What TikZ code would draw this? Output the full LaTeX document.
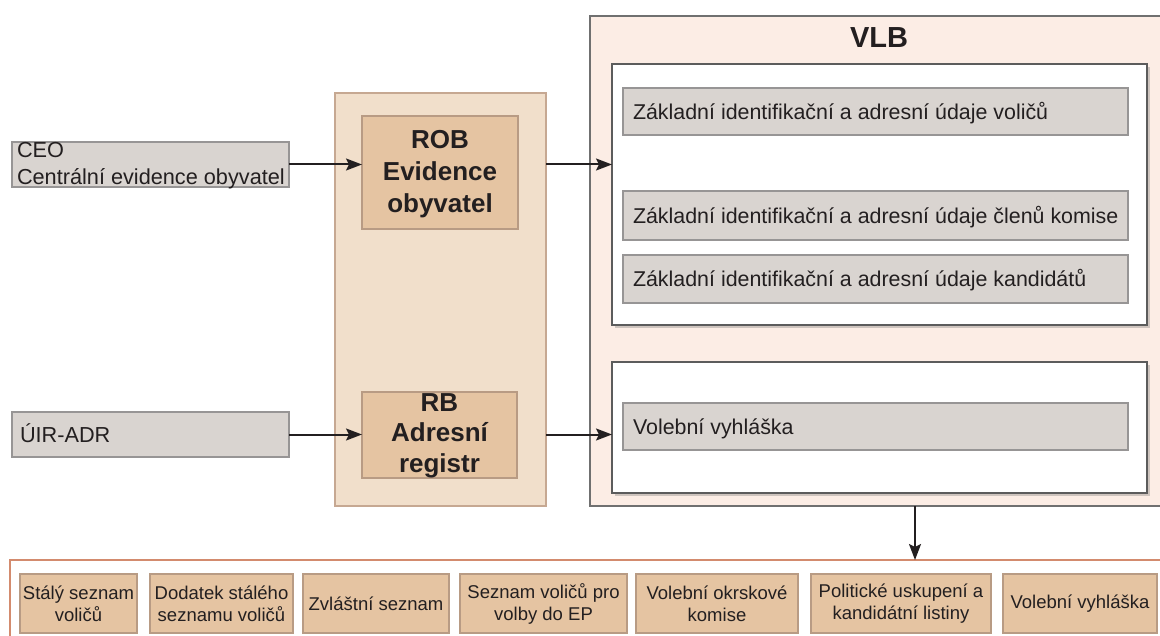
\documentclass[tikz,border=0pt]{standalone}
\usepackage{fontspec}
\setmainfont{Liberation Sans}
\usetikzlibrary{arrows.meta,shadows}
\definecolor{grayfill}{HTML}{D9D4D0}
\definecolor{graybd}{HTML}{979595}
\definecolor{tanfill}{HTML}{F1DFCB}
\definecolor{tanbd}{HTML}{C6A892}
\definecolor{robfill}{HTML}{E5C4A2}
\definecolor{robbd}{HTML}{B89B84}
\definecolor{vlbfill}{HTML}{FCEDE5}
\definecolor{vlbbd}{HTML}{707070}
\definecolor{innerbd}{HTML}{5C5C5C}
\definecolor{botbd}{HTML}{D38B6E}
\definecolor{txtc}{HTML}{231F20}
\begin{document}
\begin{tikzpicture}[x=1bp,y=-1bp,
  every node/.style={inner sep=0pt, outer sep=0pt, text=txtc},
  gbox/.style={draw=graybd, fill=grayfill, line width=2.5bp, anchor=north west},
  tancont/.style={draw=tanbd, fill=tanfill, line width=2bp, anchor=north west},
  regbox/.style={draw=robbd, fill=robfill, line width=2.5bp, anchor=north west},
  vlbbox/.style={draw=vlbbd, fill=vlbfill, line width=2bp, anchor=north west},
  inbox/.style={draw=innerbd, fill=white, line width=2bp, anchor=north west,
    drop shadow={shadow xshift=3bp, shadow yshift=-3bp, opacity=0.3, fill=black!60}},
  botcont/.style={draw=botbd, fill=white, line width=2.5bp, anchor=north west},
  botbox/.style={draw=robbd, fill=robfill, line width=2.5bp, anchor=north west,
    align=center, minimum height=59bp, font=\fontsize{18.5bp}{22bp}\selectfont},
  ltxt/.style={font=\fontsize{21.4bp}{26bp}\selectfont, text height=15.3bp, text depth=0bp, anchor=west},
  bigtxt/.style={font=\fontsize{21.7bp}{27bp}\selectfont},
  regtxt/.style={font=\bfseries\fontsize{26bp}{32bp}\selectfont, align=center, anchor=north},
  arr/.style={draw=txtc, line width=2bp, -{Stealth[length=16bp,width=12bp,inset=3bp]}}
]
\useasboundingbox (0,0) rectangle (1160,636);
\clip (0,0) rectangle (1160,636);

% left sources
\node[gbox, minimum width=277bp, minimum height=45bp] (ceo) at (12,142) {};
\node[bigtxt, anchor=north west, align=left] (ceot) at (17,142.5) {CEO\\Centrální evidence obyvatel};
\node[gbox, minimum width=277bp, minimum height=45bp] (uir) at (12,412) {};
\node[bigtxt, anchor=west, text height=15.5bp, text depth=0bp] (uirt) at ([xshift=8bp]uir.west) {ÚIR-ADR};

% middle registers
\node[tancont, minimum width=211bp, minimum height=413bp] (mid) at (335,93) {};
\node[regbox, minimum width=156bp, minimum height=113bp] (rob) at (362,116) {};
\node[regtxt] (robt) at (440,130.5) {ROB\\Evidence\\obyvatel};
\node[regbox, minimum width=155bp, minimum height=86bp] (rb) at (362,392) {};
\node[regtxt, font=\bfseries\fontsize{26bp}{30.5bp}\selectfont] (rbt) at (439.5,393.4) {RB\\Adresní\\registr};

% VLB
\node[vlbbox, minimum width=573bp, minimum height=490bp] (vlb) at (590,16) {};
\node[font=\bfseries\fontsize{29bp}{35bp}\selectfont, anchor=base] (vlbt) at (879,48) {VLB};
\node[inbox, minimum width=535bp, minimum height=261bp] (in1) at (612,64) {};
\node[gbox, minimum width=505bp, minimum height=47bp] (g1) at (623,88) {};
\node[ltxt] (g1t) at ([xshift=10bp]g1.west) {Základní identifikační a adresní údaje voličů};
\node[gbox, minimum width=505bp, minimum height=49bp] (g2) at (623,191) {};
\node[ltxt] (g2t) at ([xshift=10bp]g2.west) {Základní identifikační a adresní údaje členů komise};
\node[gbox, minimum width=505bp, minimum height=48bp] (g3) at (623,255) {};
\node[ltxt] (g3t) at ([xshift=10bp]g3.west) {Základní identifikační a adresní údaje kandidátů};
\node[inbox, minimum width=535bp, minimum height=131bp] (in2) at (612,362) {};
\node[gbox, minimum width=505bp, minimum height=47bp] (g4) at (623,403) {};
\node[ltxt] (g4t) at ([xshift=10bp]g4.west) {Volební vyhláška};

% bottom outputs
\node[botcont, minimum width=1160bp, minimum height=100bp] (bot) at (10,560) {};
\node[botbox, minimum width=117bp] (b1) at (20,574) {Stálý seznam\\voličů};
\node[botbox, minimum width=143bp] (b2) at (150,574) {Dodatek stálého\\seznamu voličů};
\node[botbox, minimum width=146bp] (b3) at (303,574) {Zvláštní seznam};
\node[botbox, minimum width=167bp] (b4) at (460,574) {Seznam voličů pro\\volby do EP};
\node[botbox, minimum width=162bp] (b5) at (636,574) {Volební okrskové\\komise};
\node[botbox, minimum width=180bp] (b6) at (811,574) {Politické uskupení a\\kandidátní listiny};
\node[botbox, minimum width=154bp] (b7) at (1003,574) {Volební vyhláška};

% connectors
\draw[arr] (ceo.east) -- (ceo.east -| rob.west);
\draw[arr] (ceo.east -| mid.east) -- (ceo.east -| in1.west);
\draw[arr] (uir.east) -- (uir.east -| rb.west);
\draw[arr] (uir.east -| mid.east) -- (uir.east -| in2.west);
\coordinate (dx) at (915,0);
\draw[arr] (vlb.south -| dx) -- (bot.north -| dx);
\end{tikzpicture}
\end{document}
